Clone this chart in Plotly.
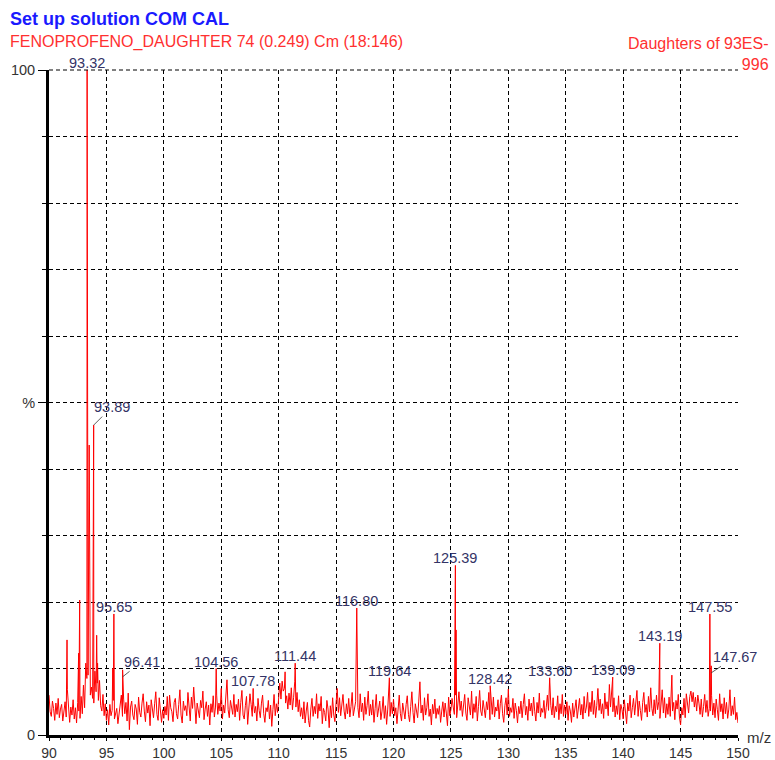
import plotly.graph_objects as go

# ---------------- data ----------------
# baseline noise, one row per m/z unit (values at .0, .1, ... .9), % intensity
noise_start_mz = 90
noise_rows = [
    [6.0, 3.5, 2.8, 5.1, 4.0, 2.2, 4.8, 3.1, 5.5, 2.6],   # 90
    [3.9, 4.6, 2.1, 3.3, 5.0, 2.7, 6.8, 3.4, 1.9, 4.2],   # 91
    [3.0, 5.3, 2.4, 4.1, 1.8, 4.9, 3.6, 2.5, 5.8, 3.2],   # 92
    [7.5, 4.1, 6.2, 8.5, 9.0, 8.8, 6.0, 7.2, 5.5, 4.8],   # 93
    [9.6, 6.5, 7.8, 5.2, 8.2, 4.4, 3.6, 6.1, 2.9, 4.7],   # 94
    [2.2, 3.8, 1.5, 4.6, 2.9, 3.7, 5.2, 2.4, 3.1, 4.0],   # 95
    [1.7, 3.5, 4.4, 6.0, 2.8, 5.4, 3.2, 4.9, 2.1, 6.3],   # 96
    [0.8, 4.2, 5.1, 3.0, 2.3, 4.6, 3.9, 1.6, 5.7, 3.4],   # 97
    [2.7, 4.8, 6.2, 3.6, 2.0, 5.0, 3.3, 4.5, 1.4, 5.3],   # 98
    [3.9, 2.6, 4.7, 6.5, 3.1, 2.2, 5.6, 4.0, 1.9, 3.8],   # 99
    [2.5, 4.3, 3.0, 5.8, 2.2, 6.0, 4.1, 3.5, 2.0, 4.9],   # 100
    [5.5, 3.2, 2.4, 4.6, 6.8, 3.0, 1.8, 5.1, 3.7, 4.4],   # 101
    [2.9, 6.4, 3.6, 2.1, 5.7, 4.0, 7.2, 3.3, 1.7, 4.8],   # 102
    [3.8, 2.6, 5.2, 4.1, 6.6, 2.3, 3.9, 5.0, 2.8, 4.5],   # 103
    [1.5, 4.7, 3.4, 5.9, 2.7, 4.2, 6.0, 3.1, 4.8, 3.6],   # 104
    [7.0, 2.4, 4.5, 3.3, 5.6, 8.3, 3.8, 2.6, 5.2, 4.0],   # 105
    [3.1, 6.1, 2.7, 4.6, 3.5, 5.4, 2.2, 4.9, 6.7, 3.0],   # 106
    [2.4, 4.4, 5.8, 1.6, 3.9, 6.2, 4.6, 2.8, 5.1, 3.3],   # 107
    [4.3, 2.1, 5.5, 3.7, 2.6, 4.8, 6.0, 3.2, 1.9, 4.1],   # 108
    [3.5, 5.2, 2.4, 4.5, 1.3, 3.8, 6.1, 2.9, 4.7, 3.4],   # 109
    [6.4, 7.8, 5.4, 8.1, 6.6, 7.0, 4.8, 5.9, 3.9, 6.3],   # 110
    [4.5, 7.1, 3.8, 5.6, 8.0, 4.2, 6.4, 3.5, 5.3, 2.8],   # 111
    [4.1, 2.4, 5.0, 1.8, 3.6, 4.9, 2.2, 1.2, 3.9, 5.5],   # 112
    [2.8, 4.3, 3.2, 6.2, 2.5, 4.7, 3.6, 5.8, 1.7, 4.0],   # 113
    [3.4, 2.1, 5.2, 3.9, 1.1, 4.4, 2.6, 5.6, 3.0, 2.0],   # 114
    [4.9, 7.0, 3.4, 5.6, 2.9, 4.2, 6.1, 3.6, 2.4, 4.7],   # 115
    [3.2, 5.5, 2.7, 4.3, 6.4, 2.9, 3.8, 5.0, 3.4, 4.1],   # 116
    [2.6, 6.2, 3.5, 4.8, 2.2, 5.7, 3.1, 4.4, 6.6, 2.9],   # 117
    [4.6, 3.0, 5.3, 1.9, 4.0, 6.1, 2.7, 3.8, 5.1, 2.3],   # 118
    [3.6, 5.8, 2.5, 4.4, 1.6, 3.9, 6.3, 2.8, 4.9, 3.2],   # 119
    [5.4, 2.9, 4.1, 1.7, 3.5, 6.0, 3.2, 2.1, 4.8, 3.7],   # 120
    [2.4, 4.6, 5.9, 3.1, 2.0, 4.3, 6.5, 3.4, 1.8, 4.7],   # 121
    [3.9, 2.6, 5.1, 8.0, 3.3, 4.5, 2.2, 5.6, 3.0, 4.1],   # 122
    [6.2, 2.8, 3.9, 1.5, 4.6, 3.2, 5.4, 2.5, 4.0, 3.1],   # 123
    [4.4, 1.9, 3.6, 5.0, 2.7, 4.8, 3.3, 1.4, 5.7, 2.9],   # 124
    [3.8, 5.5, 4.2, 3.1, 6.0, 2.6, 4.9, 6.5, 3.7, 5.1],   # 125
    [2.8, 4.4, 6.1, 3.3, 2.2, 5.6, 4.0, 3.0, 6.6, 2.5],   # 126
    [4.7, 3.4, 5.8, 2.1, 4.3, 6.7, 3.6, 2.9, 5.2, 4.0],   # 127
    [2.6, 5.0, 3.8, 6.4, 2.3, 4.5, 3.1, 5.7, 2.7, 4.2],   # 128
    [3.6, 5.3, 2.4, 4.7, 6.0, 3.2, 1.9, 4.4, 5.6, 3.0],   # 129
    [6.9, 2.8, 4.1, 3.4, 5.5, 2.5, 4.8, 3.7, 1.8, 4.3],   # 130
    [3.2, 5.1, 2.6, 4.6, 6.2, 3.0, 4.3, 2.2, 5.4, 3.6],   # 131
    [4.8, 2.9, 5.7, 3.5, 2.1, 4.9, 3.3, 6.3, 2.7, 4.0],   # 132
    [3.4, 5.2, 2.5, 4.1, 6.0, 3.7, 7.5, 4.4, 3.0, 5.6],   # 133
    [2.6, 4.3, 3.5, 5.9, 2.3, 4.7, 3.2, 6.1, 2.8, 4.5],   # 134
    [3.1, 5.0, 2.2, 4.4, 3.6, 1.9, 4.8, 2.7, 3.9, 5.3],   # 135
    [2.5, 3.8, 5.5, 3.0, 4.6, 2.4, 5.8, 3.3, 4.2, 6.4],   # 136
    [2.8, 4.9, 3.5, 6.6, 3.1, 5.2, 2.6, 4.4, 7.0, 3.7],   # 137
    [5.4, 3.2, 4.7, 2.5, 6.3, 3.9, 5.0, 2.9, 7.6, 4.2],   # 138
    [6.8, 3.5, 5.6, 2.7, 4.4, 3.1, 5.9, 2.3, 4.6, 3.8],   # 139
    [2.4, 5.3, 3.3, 1.7, 4.8, 3.6, 6.0, 2.6, 4.1, 5.5],   # 140
    [3.0, 4.5, 6.7, 2.8, 5.1, 3.7, 2.2, 4.9, 6.4, 3.4],   # 141
    [4.6, 2.7, 5.8, 3.5, 7.1, 4.0, 2.9, 5.3, 3.2, 6.0],   # 142
    [3.8, 5.0, 2.5, 4.4, 6.8, 3.3, 5.6, 2.6, 4.7, 3.1],   # 143
    [5.7, 2.8, 7.5, 3.6, 4.9, 2.3, 5.2, 3.9, 6.1, 2.7],   # 144
    [1.5, 4.1, 3.0, 5.5, 2.6, 6.2, 4.4, 3.3, 5.8, 6.6],   # 145
    [5.0, 6.4, 4.2, 5.7, 3.6, 6.0, 4.8, 3.1, 5.4, 2.7],   # 146
    [4.3, 6.1, 3.4, 5.2, 2.8, 4.0, 3.6, 5.9, 3.0, 4.8],   # 147
    [2.6, 5.4, 3.8, 2.2, 6.2, 3.5, 4.7, 2.4, 5.6, 3.2],   # 148
    [4.9, 2.5, 3.9, 6.8, 2.9, 4.4, 3.1, 5.7, 2.3, 3.4],   # 149
    [1.8],                                                # 150
]

# spikes / peaks (m/z, % intensity)
peak_mz = [91.57, 92.58, 92.67, 93.20, 93.32, 93.42, 93.50, 93.82, 93.89,
           94.15, 94.23, 95.55, 95.65, 96.41, 104.56, 107.78, 110.56,
           111.44, 116.80, 116.88, 119.64, 125.39, 125.45, 128.42, 133.60,
           139.09, 143.19, 144.24, 147.55, 147.67]
peak_int = [14.3, 12.3, 20.3, 10.8, 100.0, 23.0, 43.6, 23.8, 46.6,
            15.0, 10.8, 10.0, 18.2, 9.8, 10.0, 7.0, 9.5,
            10.8, 19.1, 11.0, 8.6, 25.5, 15.8, 7.4, 8.6,
            8.7, 13.8, 9.0, 18.2, 10.4]

# labelled peaks
label_mz = [93.32, 93.89, 95.65, 96.41, 104.56, 107.78, 111.44, 116.80,
            119.64, 125.39, 128.42, 133.60, 139.09, 143.19, 147.55, 147.67]
label_text = ["93.32", "93.89", "95.65", "96.41", "104.56", "107.78", "111.44",
              "116.80", "119.64", "125.39", "128.42", "133.60", "139.09",
              "143.19", "147.55", "147.67"]

x_tick_vals = [90, 95, 100, 105, 110, 115, 120, 125, 130, 135, 140, 145, 150]
y_tick_vals = [0, 50, 100]
y_tick_text = ["0", "%", "100"]

title_text = "Set up solution COM CAL"
subtitle_text = "FENOPROFENO_DAUGHTER 74 (0.249) Cm (18:146)"
right_text = "Daughters of 93ES-<br>996"
x_unit_text = "m/z"

# ---------------- build spectrum ----------------
pts = []
for r, row in enumerate(noise_rows):
    for k, v in enumerate(row):
        mz = round(noise_start_mz + r + k / 10.0, 2)
        if any(abs(mz - p) < 0.005 for p in peak_mz):
            continue
        pts.append((mz, v))
pts += list(zip(peak_mz, peak_int))
pts.sort(key=lambda t: t[0])
xs = [p[0] for p in pts]
ys = [p[1] for p in pts]

fig = go.Figure()
fig.add_trace(go.Scatter(x=xs, y=ys, mode="lines",
                         line=dict(color="#ff0000", width=1),
                         hoverinfo="skip", showlegend=False))

# ---------------- styles ----------------
FONT = "Liberation Sans, Arial, sans-serif"
LABEL_COLOR = "#333366"
GRID_DASH = "4px,3px"
leader = {  # label -> (ax, ay, yshift) in px
    "93.89": (18, -18, 0),
    "96.41": (19, -15, -7),
    "147.67": (24, -16, -7),
}

peak_lookup = dict(zip(peak_mz, peak_int))
annotations = []
for mz, txt in zip(label_mz, label_text):
    yv = peak_lookup[mz]
    if txt in leader:
        ax, ay, ys_ = leader[txt]
        annotations.append(dict(
            x=mz, y=yv, xref="x", yref="y", text=txt, showarrow=True,
            arrowhead=0, arrowwidth=0.8, arrowcolor="#333333",
            ax=ax, ay=ay, yshift=ys_, standoff=0,
            font=dict(family=FONT, size=14.5, color=LABEL_COLOR)))
    else:
        annotations.append(dict(
            x=mz, y=yv, xref="x", yref="y", text=txt, showarrow=False,
            xanchor="center", yanchor="bottom", yshift=-3,
            font=dict(family=FONT, size=14.5, color=LABEL_COLOR)))

annotations += [
    dict(x=-0.0595, y=1.0767, xref="paper", yref="paper", xanchor="left",
         yanchor="middle", showarrow=False, text="<b>" + title_text + "</b>",
         font=dict(family=FONT, size=18, color="#1a1aff")),
    dict(x=-0.0595, y=1.0421, xref="paper", yref="paper", xanchor="left",
         yanchor="middle", showarrow=False, text=subtitle_text,
         font=dict(family=FONT, size=16, color="#ff3030")),
    dict(x=1.0479, y=1.0556, xref="paper", yref="paper", xanchor="right",
         yanchor="top", align="right", showarrow=False, text=right_text,
         font=dict(family=FONT, size=16, color="#ff3030")),
    dict(x=1.0100, y=-0.004, xref="paper", yref="paper", xanchor="left",
         yanchor="middle", showarrow=False, text=x_unit_text,
         font=dict(family=FONT, size=15, color="#333333")),
]

# dashed frame line along the top of the plot area
shapes = [dict(type="line", xref="paper", yref="paper", x0=0, x1=1, y0=1, y1=1,
               line=dict(color="black", width=1, dash=GRID_DASH), layer="above")]

fig.update_layout(
    width=775, height=760,
    margin=dict(l=49, r=37, t=70, b=25, pad=0),
    paper_bgcolor="white", plot_bgcolor="white",
    template="none",
    showlegend=False,
    annotations=annotations,
    shapes=shapes,
    xaxis=dict(range=[90, 150], tickvals=x_tick_vals,
               ticks="outside", ticklen=3, tickwidth=1, tickcolor="black",
               showline=True, linewidth=3, linecolor="black",
               showgrid=True, gridcolor="black", gridwidth=1, griddash=GRID_DASH,
               zeroline=False, automargin=False,
               minor=dict(dtick=1, tick0=90, ticks="outside", ticklen=2,
                          tickwidth=1, tickcolor="black", showgrid=False),
               tickfont=dict(family=FONT, size=14, color="#333333")),
    yaxis=dict(range=[0, 100], tickvals=y_tick_vals, ticktext=y_tick_text,
               ticks="outside", ticklen=8, tickwidth=1, tickcolor="black",
               showline=True, linewidth=3, linecolor="black",
               showgrid=True, gridcolor="black", gridwidth=1, griddash=GRID_DASH,
               zeroline=False, automargin=False,
               minor=dict(dtick=10, tick0=0, ticks="outside", ticklen=4,
                          tickwidth=1, tickcolor="black", showgrid=True,
                          gridcolor="black", gridwidth=1, griddash=GRID_DASH),
               tickfont=dict(family=FONT, size=14.5, color="#333333")),
)

fig.write_html("out.html")
